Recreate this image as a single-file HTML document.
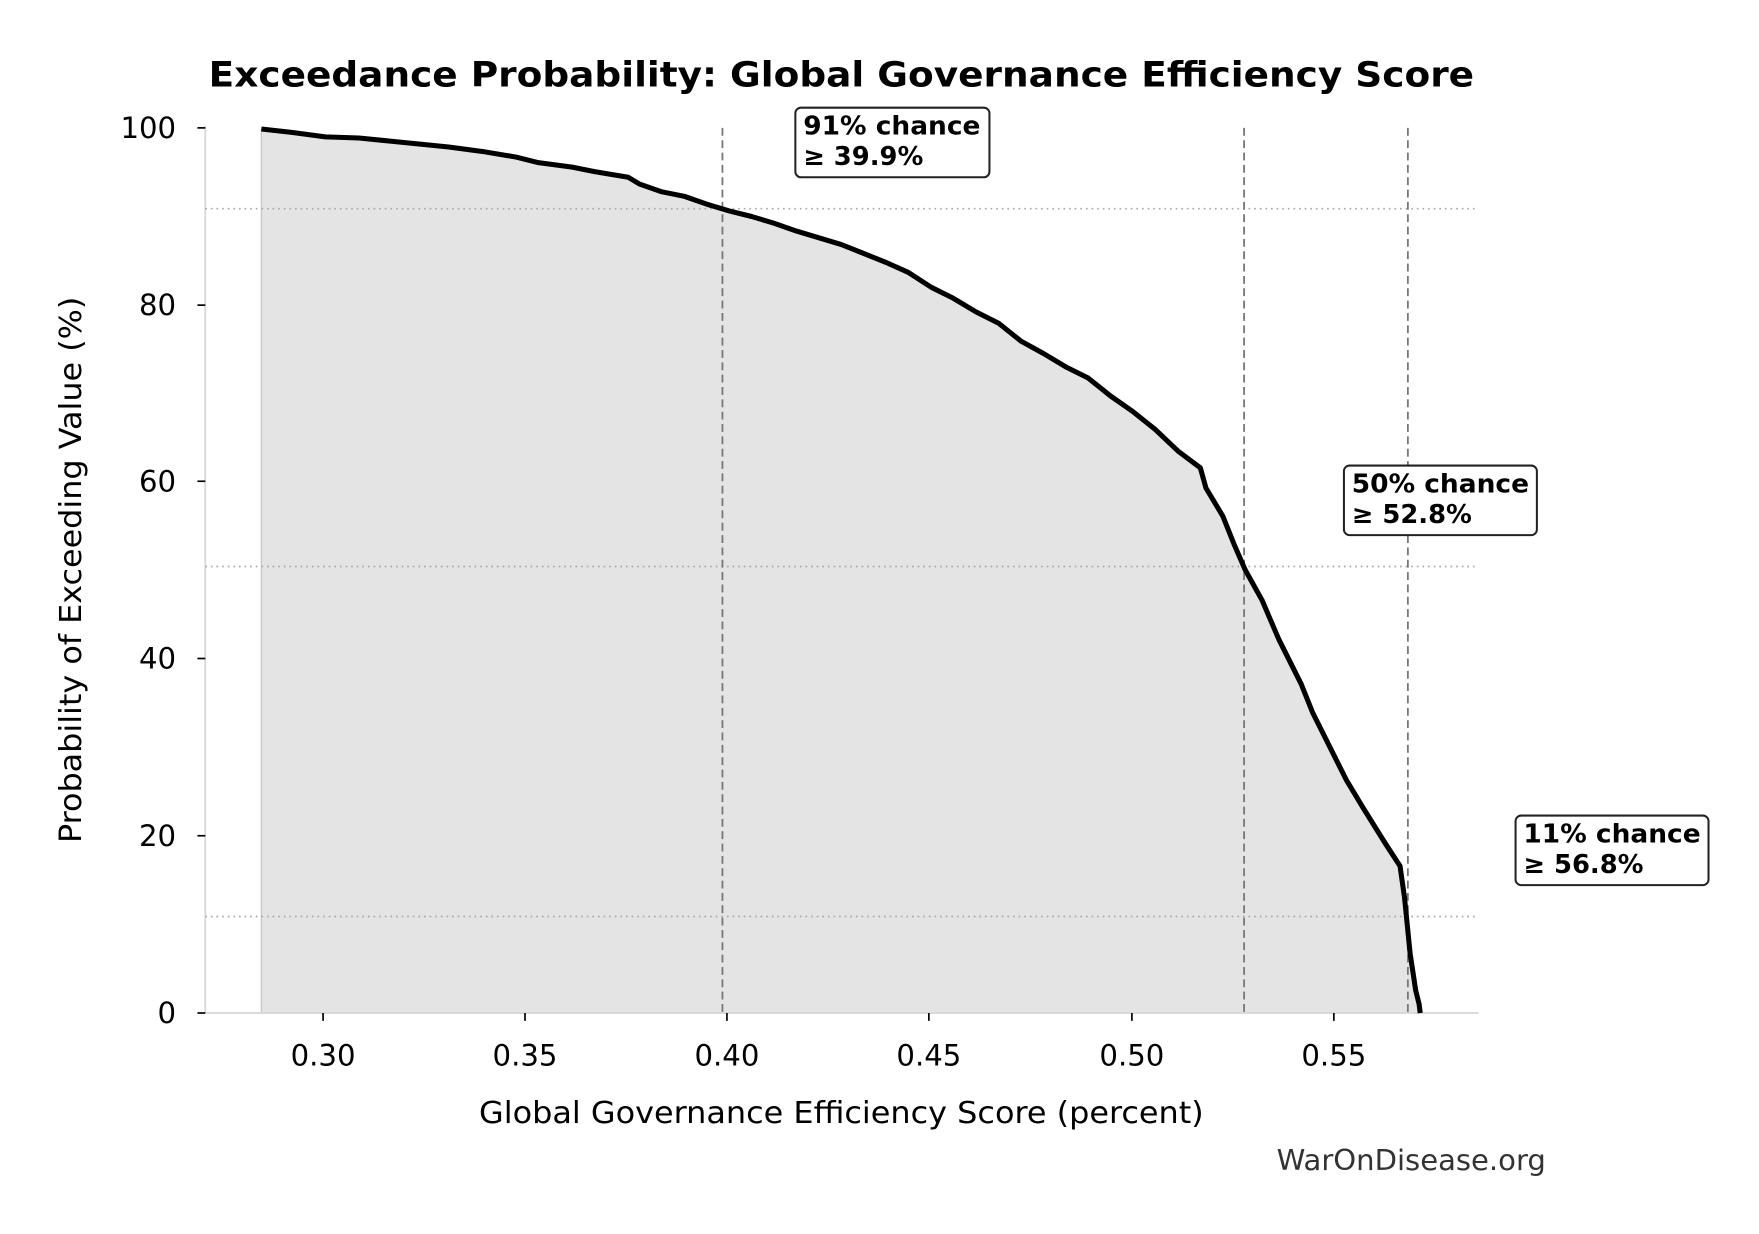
<!DOCTYPE html>
<html><head><meta charset="utf-8"><style>html,body{margin:0;padding:0;background:#fff}svg{display:block}</style></head>
<body>
<svg width="1759" height="1234" viewBox="0 0 1568 1100" preserveAspectRatio="none" xmlns="http://www.w3.org/2000/svg" font-family="'DejaVu Sans','Liberation Sans',sans-serif">
<rect width="1568" height="1100" fill="#fff"/>
<text x="750" y="77" text-anchor="middle" font-size="31" font-weight="bold" textLength="1128" lengthAdjust="spacingAndGlyphs">Exceedance Probability: Global Governance Efficiency Score</text>
<path d="M233,903 L233,115 L260,118 L290,122 L320,123 L350,126 L370,128 L400,131 L430,135 L460,140 L480,145 L510,149 L530,153 L560,158 L570,164 L590,171 L610,175 L630,182 L650,188 L670,193 L690,199 L710,206 L730,212 L750,218 L770,226 L790,234 L810,243 L830,256 L850,266 L870,278 L890,288 L910,304 L930,315 L950,327 L970,337 L990,353 L1010,367 L1030,383 L1050,402 L1070,417 L1075,435 L1090,460 L1100,485 L1110,508 L1125,535 L1140,570 L1160,610 L1170,635 L1185,665 L1200,695 L1215,720 L1235,752 L1248,772 L1252,800 L1257,850 L1262,883 L1265,895 L1266,903 Z" fill="#e4e4e4"/>
<line x1="233" y1="115" x2="233" y2="903" stroke="#c8c8c8" stroke-width="1.2"/>
<line x1="183" y1="112" x2="183" y2="903" stroke="#d6d6d6" stroke-width="1.5"/>
<line x1="183" y1="903" x2="1318" y2="903" stroke="#d6d6d6" stroke-width="1.5"/>
<g stroke="#aaa" stroke-width="1.5" stroke-dasharray="1.5,3.5">
<line x1="183" y1="186" x2="1318" y2="186"/>
<line x1="183" y1="505" x2="1318" y2="505"/>
<line x1="183" y1="817" x2="1318" y2="817"/>
</g>
<g stroke="#777" stroke-width="1.6" stroke-dasharray="7,4">
<line x1="644" y1="114" x2="644" y2="903"/>
<line x1="1109" y1="114" x2="1109" y2="903"/>
<line x1="1255" y1="114" x2="1255" y2="903"/>
</g>
<path d="M233,115 L260,118 L290,122 L320,123 L350,126 L370,128 L400,131 L430,135 L460,140 L480,145 L510,149 L530,153 L560,158 L570,164 L590,171 L610,175 L630,182 L650,188 L670,193 L690,199 L710,206 L730,212 L750,218 L770,226 L790,234 L810,243 L830,256 L850,266 L870,278 L890,288 L910,304 L930,315 L950,327 L970,337 L990,353 L1010,367 L1030,383 L1050,402 L1070,417 L1075,435 L1090,460 L1100,485 L1110,508 L1125,535 L1140,570 L1160,610 L1170,635 L1185,665 L1200,695 L1215,720 L1235,752 L1248,772 L1252,800 L1257,850 L1262,883 L1265,895 L1266,903" fill="none" stroke="#000" stroke-width="4.5" stroke-linejoin="round"/>
<g stroke="#000" stroke-width="1.5">
<line x1="176" y1="114" x2="183" y2="114"/><line x1="176" y1="272" x2="183" y2="272"/>
<line x1="176" y1="429" x2="183" y2="429"/><line x1="176" y1="587" x2="183" y2="587"/>
<line x1="176" y1="745" x2="183" y2="745"/><line x1="176" y1="903" x2="183" y2="903"/>
<line x1="288" y1="903" x2="288" y2="910"/><line x1="468" y1="903" x2="468" y2="910"/>
<line x1="648" y1="903" x2="648" y2="910"/><line x1="828" y1="903" x2="828" y2="910"/>
<line x1="1009" y1="903" x2="1009" y2="910"/><line x1="1189" y1="903" x2="1189" y2="910"/>
</g>
<g font-size="26" fill="#000" text-anchor="end">
<text x="157" y="123">100</text><text x="157" y="281">80</text><text x="157" y="438">60</text>
<text x="157" y="596">40</text><text x="157" y="754">20</text><text x="157" y="912">0</text>
</g>
<g font-size="26" fill="#000" text-anchor="middle">
<text x="288" y="950">0.30</text><text x="468" y="950">0.35</text><text x="648" y="950">0.40</text>
<text x="828" y="950">0.45</text><text x="1009" y="950">0.50</text><text x="1189" y="950">0.55</text>
</g>
<text x="750" y="1001" font-size="27" text-anchor="middle" textLength="646" lengthAdjust="spacingAndGlyphs">Global Governance Efficiency Score (percent)</text>
<text transform="translate(72,508) rotate(-90)" font-size="27" text-anchor="middle" textLength="487" lengthAdjust="spacingAndGlyphs">Probability of Exceeding Value (%)</text>
<text x="1378" y="1043" font-size="25" text-anchor="end" fill="#333" textLength="240" lengthAdjust="spacingAndGlyphs">WarOnDisease.org</text>
<g font-size="23" font-weight="bold">
<rect x="709" y="96" width="173" height="62" rx="5" fill="#fff" stroke="#222" stroke-width="1.8"/>
<text x="716" y="120" textLength="158" lengthAdjust="spacingAndGlyphs">91% chance</text><text x="716" y="147">≥ 39.9%</text>
<rect x="1198" y="415" width="172" height="62" rx="5" fill="#fff" stroke="#222" stroke-width="1.8"/>
<text x="1205" y="439" textLength="158" lengthAdjust="spacingAndGlyphs">50% chance</text><text x="1205" y="466">≥ 52.8%</text>
<rect x="1351" y="727" width="172" height="62" rx="5" fill="#fff" stroke="#222" stroke-width="1.8"/>
<text x="1358" y="751" textLength="158" lengthAdjust="spacingAndGlyphs">11% chance</text><text x="1358" y="778">≥ 56.8%</text>
</g>
</svg>
</body></html>
